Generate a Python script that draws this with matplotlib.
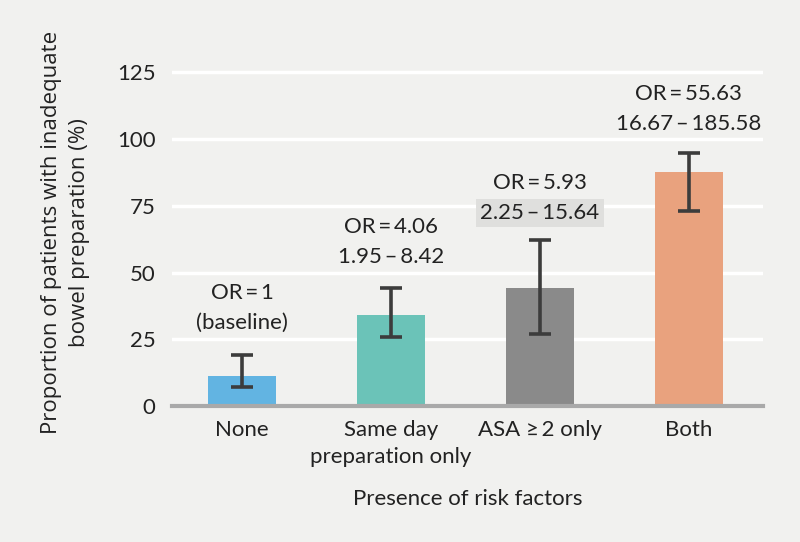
import matplotlib.pyplot as plt

# Data
categories = ["None", "Same day\npreparation only", "ASA \u2265\u20092 only", "Both"]
proportions = [11.4, 34.1, 44.3, 87.7]
err_low = [7.1, 25.8, 27.0, 73.1]
err_high = [19.2, 44.1, 62.1, 94.8]
or_labels = ["OR\u2009=\u20091", "OR\u2009=\u20094.06", "OR\u2009=\u20095.93", "OR\u2009=\u200955.63"]
ci_labels = ["(baseline)", "1.95\u2009\u2013\u20098.42", "2.25\u2009\u2013\u200915.64",
             "16.67\u2009\u2013\u2009185.58"]
label_y = [42.3, 67.0, 83.5, 117.0]
colors = ["#62b4e2", "#6bc3b8", "#8a8a8a", "#e9a27e"]
yticks = [0, 25, 50, 75, 100, 125]

bg = "#f1f1ef"
txt = "#222222"
fam = ["Lato", "DejaVu Sans"]


def main():
    fig = plt.figure(figsize=(8, 5.42), dpi=100, facecolor=bg)
    ax = fig.add_axes([0.215, 0.251, 0.739, 0.64])
    ax.set_facecolor(bg)

    x = list(range(len(categories)))
    yerr = [[p - lo for p, lo in zip(proportions, err_low)],
            [hi - p for p, hi in zip(proportions, err_high)]]

    ax.bar(x, proportions, width=0.455, color=colors, zorder=2)
    ax.errorbar(x, proportions, yerr=yerr, fmt="none", ecolor="#3c3c3c",
                elinewidth=2.6, capsize=8, capthick=2.6, zorder=3)

    # OR labels above each bar; the ASA interval gets a shaded box
    for i in x:
        ax.text(i, label_y[i], or_labels[i], ha="center", va="center",
                fontsize=16, family=fam, color=txt, zorder=4)
        box = None
        if i == 2:
            box = dict(boxstyle="square,pad=0.2", fc="#dfdfdd", ec="none")
        ax.text(i, label_y[i] - 11.2, ci_labels[i], ha="center", va="center",
                fontsize=16, family=fam, color=txt, bbox=box, zorder=4)

    ax.set_xlim(-0.47, 3.5)
    ax.set_ylim(0, 130)
    ax.set_yticks(yticks)
    ax.set_xticks(x)
    ax.set_xticklabels(categories, fontsize=16, family=fam, color=txt,
                       linespacing=1.45)
    ax.set_yticklabels([str(t) for t in yticks], fontsize=16, family=fam,
                       color=txt)
    ax.tick_params(axis="y", length=0, pad=12)
    ax.tick_params(axis="x", length=0, pad=10)

    ax.grid(axis="y", color="white", linewidth=2.5, zorder=0)
    ax.set_axisbelow(True)
    for side in ["top", "right", "left"]:
        ax.spines[side].set_visible(False)
    ax.spines["bottom"].set_color("#a9a9a9")
    ax.spines["bottom"].set_linewidth(3)
    ax.spines["bottom"].set_zorder(5)

    ax.set_xlabel("Presence of risk factors", fontsize=16, family=fam,
                  color=txt, labelpad=16)
    ax.set_ylabel("Proportion of patients with inadequate\nbowel preparation (%)",
                  fontsize=16, family="Open Sans", color=txt,
                  labelpad=19, linespacing=1.45)

    fig.savefig("out.png", dpi=100, facecolor=bg)


if __name__ == "__main__":
    main()
